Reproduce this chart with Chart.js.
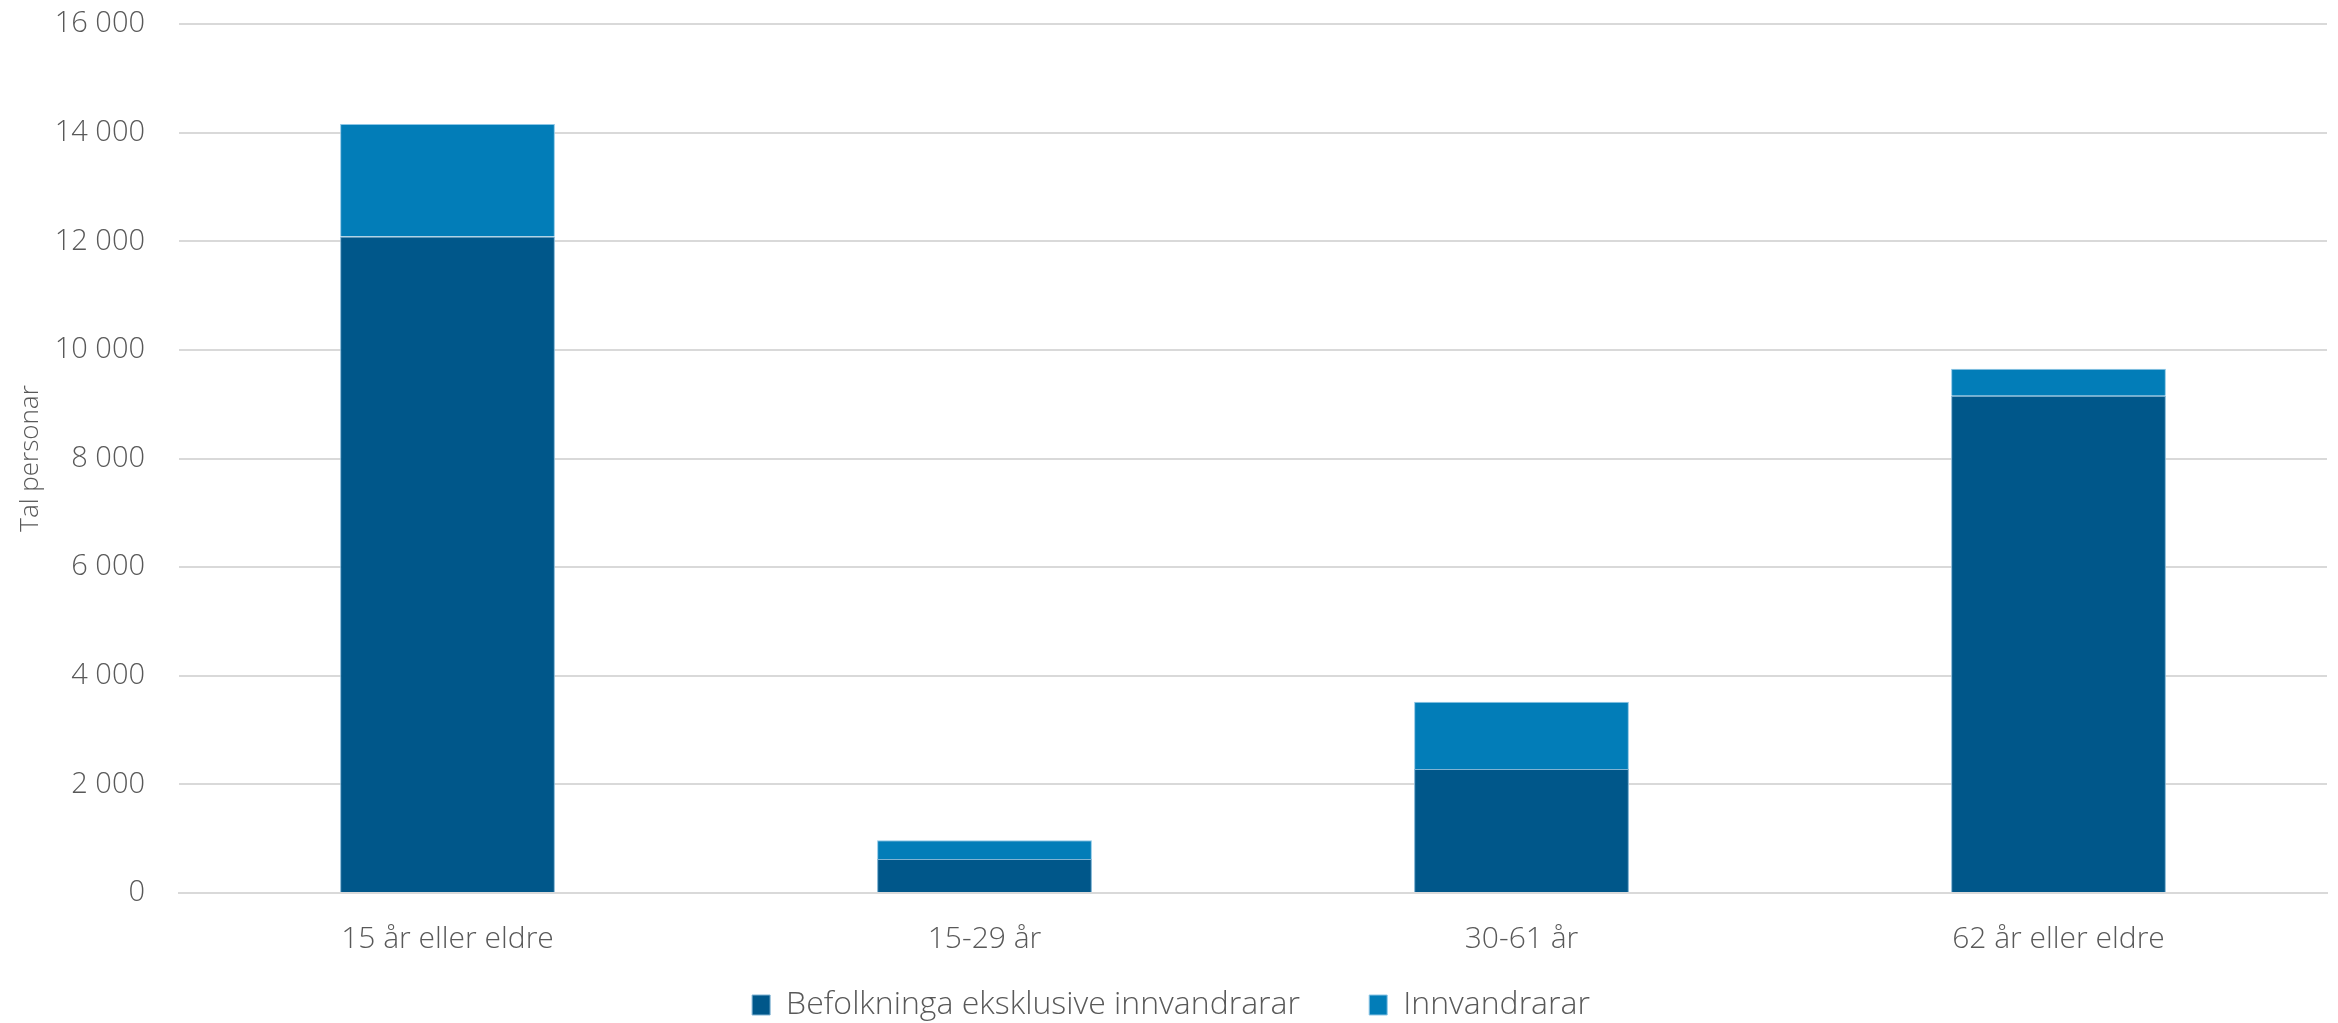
<!DOCTYPE html>
<html>
<head>
<meta charset="utf-8">
<script src="https://cdn.jsdelivr.net/npm/chart.js@4"></script>
<style>
  html, body { margin: 0; padding: 0; background: #fff; }
  #wrap { width: 2338px; height: 1023px; }
</style>
</head>
<body>
<div id="wrap"><canvas id="myChart" width="2338" height="1023"></canvas></div>
<script>
const kategoriar = ["15 år eller eldre", "15-29 år", "30-61 år", "62 år eller eldre"];
const utanInnvandrarar = [12086, 626, 2283, 9154];
const innvandrarar = [2074, 343, 1237, 500];
const yTicks = [0, 2000, 4000, 6000, 8000, 10000, 12000, 14000, 16000];

const tekstFarge = "#595959";
const font = "'Open Sans', 'DejaVu Sans', sans-serif";

const ctx = document.getElementById("myChart");

new Chart(ctx, {
  type: "bar",
  data: {
    labels: kategoriar,
    datasets: [
      {
        label: "Befolkninga eksklusive innvandrarar",
        data: utanInnvandrarar,
        backgroundColor: "#00578a",
        borderColor: "#7fb3d3",
        borderWidth: 1,
        categoryPercentage: 1,
        barPercentage: 0.4,
      },
      {
        label: "Innvandrarar",
        data: innvandrarar,
        backgroundColor: "#027db8",
        borderColor: "#8cc6e6",
        borderWidth: 1,
        categoryPercentage: 1,
        barPercentage: 0.4,
      },
    ],
  },
  options: {
    responsive: false,
    animation: false,
    layout: { padding: { top: 24, right: 11, left: 15, bottom: -8 } },
    plugins: {
      tooltip: { enabled: false },
      legend: {
        position: "bottom",
        labels: {
          color: tekstFarge,
          font: { family: font, size: 32, weight: 300 },
          boxWidth: 18,
          boxHeight: 20,
          padding: 36,
          // litt ekstra luft mellom dei to forklaringane
          generateLabels: (chart) => {
            const items = Chart.defaults.plugins.legend.labels.generateLabels(chart);
            items[0].text = items[0].text + "    ";
            return items;
          },
        },
      },
    },
    scales: {
      x: {
        stacked: true,
        grid: { display: false, drawTicks: false },
        border: { color: "#d9d9d9", width: 2 },
        ticks: { color: tekstFarge, font: { family: font, size: 30, weight: 300 }, padding: 28 },
        afterFit: (axis) => {
          axis.height = 60;
        },
      },
      y: {
        stacked: true,
        min: 0,
        max: 16000,
        afterBuildTicks: (axis) => {
          axis.ticks = yTicks.map((v) => ({ value: v }));
        },
        afterFit: (axis) => {
          axis.width = 164;
        },
        grid: { color: "#d9d9d9", lineWidth: 2, drawTicks: true, tickLength: 34, tickColor: "rgba(0,0,0,0)" },
        border: { display: false },
        ticks: {
          color: tekstFarge,
          font: { family: font, size: 29, weight: 300 },
          padding: 0,
          callback: (v) => String(v).replace(/\B(?=(\d{3})+(?!\d))/g, " "),
        },
        title: {
          display: true,
          text: "Tal personar",
          color: tekstFarge,
          font: { family: font, size: 26, weight: 300 },
          padding: { top: 0, bottom: 0 },
        },
      },
    },
  },
});
</script>
</body>
</html>
